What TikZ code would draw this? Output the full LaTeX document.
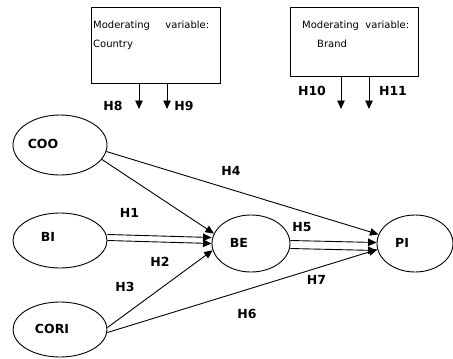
\documentclass[tikz,border=0pt]{standalone}
\usepackage{fontspec}
\setmainfont{DejaVu Sans}
\usetikzlibrary{arrows.meta,shapes.geometric}
\begin{document}
\begin{tikzpicture}[x=1pt,y=-1pt,
  con/.style={draw, line width=0.9pt, -{Triangle[length=8.5pt,width=7.5pt]}},
  ell/.style={ellipse, draw, line width=0.9pt, inner sep=0pt},
  lab/.style={font=\fontsize{12.5}{14}\selectfont\bfseries, inner sep=0pt, anchor=base},
  modbox/.style={draw, line width=0.9pt, inner sep=0pt},
  boxtext/.style={font=\fontsize{10}{12}\selectfont, inner sep=0pt, anchor=base west}]
\useasboundingbox (0,0) rectangle (453,359);

% moderating boxes
\node[modbox, minimum width=129pt, minimum height=76pt] (mod1) at (155.5,45) {};
\node[boxtext] (m1a) at (93,28) {\makebox[116pt][s]{Moderating variable:}};
\node[boxtext] (m1b) at (93,47) {Country};
\node[modbox, minimum width=128pt, minimum height=69pt] (mod2) at (354,41.5) {};
\node[boxtext] (m2a) at (302,28) {\makebox[107pt][s]{Moderating variable:}};
\node[boxtext] (m2b) at (317,47) {Brand};

\coordinate (t8) at (139,109);
\coordinate (t9) at (167,109);
\coordinate (t10) at (341,109);
\coordinate (t11) at (369,109);
\draw[con] (mod1.south -| t8) -- (t8);
\draw[con] (mod1.south -| t9) -- (t9);
\draw[con] (mod2.south -| t10) -- (t10);
\draw[con] (mod2.south -| t11) -- (t11);

% constructs
\node[ell, minimum width=94pt, minimum height=60pt] (coo) at (60,145) {};
\node[ell, minimum width=94pt, minimum height=55pt] (bi) at (60,240.5) {};
\node[ell, minimum width=94pt, minimum height=55pt] (cori) at (60,329.5) {};
\node[ell, minimum width=78pt, minimum height=57pt] (be) at (251,243.5) {};
\node[ell, minimum width=76pt, minimum height=57pt] (pi) at (415,243.5) {};

\node[lab] (cootxt) at (43,148) {COO};
\node[lab] (bitxt) at (48,241) {BI};
\node[lab] (coritxt) at (52,333) {CORI};
\node[lab] (betxt) at (239,247) {BE};
\node[lab] (pitxt) at (402,247) {PI};

% connectors
\draw[con] (coo.-19) -- (be.165);
\draw[con] (coo.-8) -- (pi.166);
\draw[con] ([yshift=6pt]bi.east) -- ([yshift=6pt]be.west);
\draw[con] (bi.east) -- (be.west);
\draw[con] ([yshift=3pt]be.east) -- ([yshift=1pt]pi.west);
\draw[con] ([yshift=-5pt]be.east) -- ([yshift=-7pt]pi.west);
\draw[con] ([yshift=2pt]cori.east) -- (be.190);
\draw[con] ([yshift=-3pt]cori.east) -- (pi.189);

% hypothesis labels
\node[lab] (h8) at (113,110) {H8};
\node[lab] (h9) at (184,110) {H9};
\node[lab] (h10) at (312,95) {H10};
\node[lab] (h11) at (393,95) {H11};
\node[lab] (h4) at (231,175) {H4};
\node[lab] (h1) at (129.5,217) {H1};
\node[lab] (h2) at (160,266) {H2};
\node[lab] (h3) at (125,291) {H3};
\node[lab] (h5) at (302,231) {H5};
\node[lab] (h7) at (316.5,284) {H7};
\node[lab] (h6) at (247,318) {H6};
\end{tikzpicture}
\end{document}
